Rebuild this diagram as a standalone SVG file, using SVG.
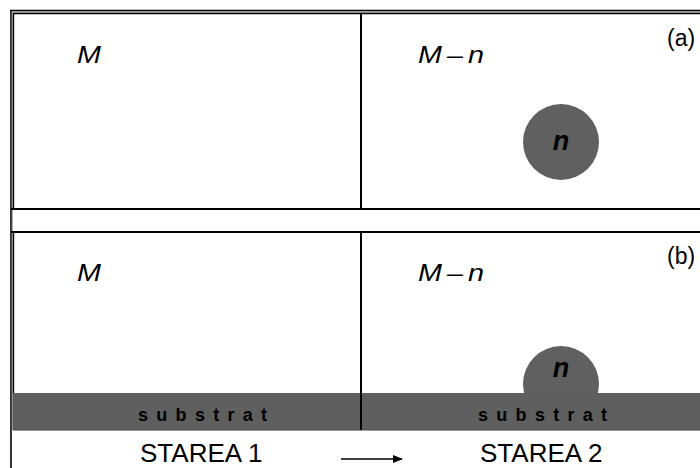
<svg xmlns="http://www.w3.org/2000/svg" width="700" height="468" viewBox="0 0 700 468">
  <style>
    .frame { stroke: #000; fill: none; }
    .lbl { font-family: "Liberation Sans", Arial, sans-serif; fill: #000; }
    .it { font-style: italic; font-size: 23px; }
    .tag { font-size: 23px; }
    .blob { fill: #606060; }
    .nn { font-style: italic; font-weight: bold; font-size: 27px; text-anchor: middle; }
    .sub { font-weight: bold; font-size: 18px; letter-spacing: 8.3px; }
    .state { font-size: 26px; }
  </style>
  <defs>
    <marker id="arrowhead" markerWidth="10" markerHeight="8" refX="9" refY="4" orient="auto" markerUnits="userSpaceOnUse">
      <path d="M0,0 L10,4 L0,8 Z" fill="#000"/>
    </marker>
  </defs>
  <rect width="700" height="468" fill="#fff"/>

  <!-- outer frame line, running down the left side -->
  <line class="frame" x1="11" y1="10" x2="11" y2="468" stroke-width="1.6"/>
  <line class="frame" x1="10" y1="10.5" x2="700" y2="10.5" stroke-width="1.4"/>
  <line x1="12" y1="12" x2="700" y2="12" stroke="#999" stroke-width="1.4"/>
  <line x1="12.3" y1="12" x2="12.3" y2="430" stroke="#999" stroke-width="1"/>

  <!-- panel (a) -->
  <g id="panel-a">
    <line class="frame" x1="13.5" y1="13.5" x2="700" y2="13.5" stroke-width="1.4"/>
    <line class="frame" x1="13.5" y1="13" x2="13.5" y2="209" stroke-width="1.4"/>
    <line class="frame" x1="11" y1="209" x2="700" y2="209" stroke-width="2"/>
    <line class="frame" x1="361" y1="13" x2="361" y2="209" stroke-width="2"/>
    <text class="lbl it" transform="translate(77,63) scale(1.25,1)">M</text>
    <text class="lbl it" transform="translate(418,63) scale(1.25,1)" letter-spacing="4">M–n</text>
    <text class="lbl tag" x="667" y="46">(a)</text>
  </g>
  <g id="particle-a">
    <circle class="blob" cx="561" cy="142" r="38"/>
    <text class="lbl nn" x="561" y="150">n</text>
  </g>

  <!-- panel (b) -->
  <g id="panel-b">
    <line class="frame" x1="11" y1="232" x2="700" y2="232" stroke-width="2"/>
    <line class="frame" x1="13.5" y1="232" x2="13.5" y2="430" stroke-width="1.4"/>
    <text class="lbl it" transform="translate(77,281) scale(1.25,1)">M</text>
    <text class="lbl it" transform="translate(418,281) scale(1.25,1)" letter-spacing="4">M–n</text>
    <text class="lbl tag" x="667" y="264">(b)</text>
  </g>
  <g id="particle-b">
    <circle class="blob" cx="561" cy="384" r="38"/>
    <text class="lbl nn" x="561" y="377">n</text>
  </g>
  <g id="substrate">
    <rect x="13" y="393" width="687" height="37" fill="#5f5f5f"/>
    <line x1="13" y1="430" x2="700" y2="430" stroke="#444" stroke-width="1"/>
    <line class="frame" x1="361" y1="232" x2="361" y2="430" stroke-width="2"/>
    <text class="lbl sub" x="138" y="421">substrat</text>
    <text class="lbl sub" x="478" y="421">substrat</text>
  </g>

  <!-- state captions and transition arrow -->
  <g id="state-1">
    <text class="lbl state" x="140" y="462">STAREA 1</text>
  </g>
  <g id="state-2">
    <text class="lbl state" x="480" y="462">STAREA 2</text>
  </g>
  <g id="connectors">
    <line x1="341" y1="459" x2="402" y2="459" stroke="#000" stroke-width="1.6" marker-end="url(#arrowhead)"/>
  </g>
</svg>
